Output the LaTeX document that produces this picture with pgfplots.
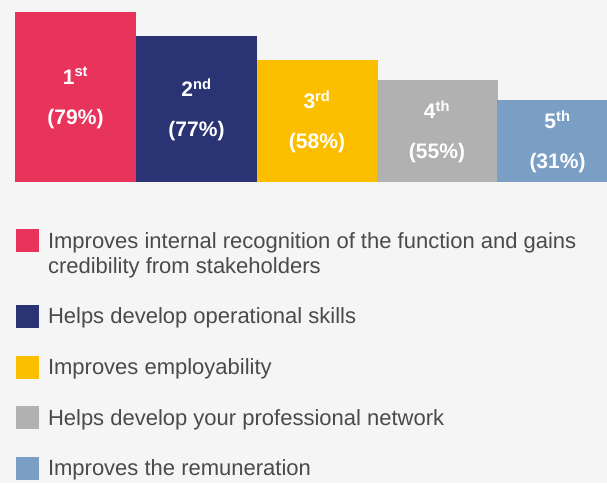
\documentclass[border=0pt]{standalone}
\usepackage{fontspec}
\setmainfont{Liberation Sans}
\usepackage{pgfplots}
\pgfplotsset{compat=1.18}
\definecolor{bg}{HTML}{F5F5F5}
\definecolor{c1}{HTML}{E8335A}
\definecolor{c2}{HTML}{2A3475}
\definecolor{c3}{HTML}{FBBF00}
\definecolor{c4}{HTML}{B1B1B1}
\definecolor{c5}{HTML}{7B9EC5}
\definecolor{lt}{HTML}{4A4A4A}
\begin{document}
\begin{tikzpicture}[x=1pt,y=1pt]
\fill[bg] (-15,-301) rectangle (592,182);
\useasboundingbox (-15,-301) rectangle (592,182);
\begin{axis}[at={(0,0)}, anchor=south west, scale only axis,
  width=592pt, height=182pt, xmin=15, xmax=607, ymin=0, ymax=182,
  axis lines=none, clip=true,
  legend cell align=left,
  legend style={at={(axis description cs:0.00169,-0.2473)}, anchor=north west,
    draw=none, fill=none, inner sep=0pt, outer sep=0pt,
    row sep=0.6pt, column sep=7pt,
    font=\fontsize{22}{25.5}\selectfont, text=lt,
    cells={anchor=base west, inner sep=0pt, text height=19pt, text depth=5pt, text=lt}},
  legend image code/.code={\fill (0pt,-4pt) rectangle (23pt,19pt);},
]
\addplot[ybar, bar width=121, fill=c1, draw=none] coordinates {(75.5,170)};
\addlegendentry{Improves internal recognition of the function and gains}
\addlegendimage{empty legend}
\addlegendentry{credibility from stakeholders}
\addlegendimage{empty legend}
\addlegendentry{\phantom{x}}
\addplot[ybar, bar width=121, fill=c2, draw=none] coordinates {(196.5,146)};
\addlegendentry{Helps develop operational skills}
\addlegendimage{empty legend}
\addlegendentry{\phantom{x}}
\addplot[ybar, bar width=121, fill=c3, draw=none] coordinates {(317,122)};
\addlegendentry{Improves employability}
\addlegendimage{empty legend}
\addlegendentry{\phantom{x}}
\addplot[ybar, bar width=121, fill=c4, draw=none] coordinates {(437,102)};
\addlegendentry{Helps develop your professional network}
\addlegendimage{empty legend}
\addlegendentry{\phantom{x}}
\addplot[ybar, bar width=121, fill=c5, draw=none] coordinates {(557.5,82)};
\addlegendentry{Improves the remuneration}
\tikzset{lab/.style={align=center, text=white, font=\fontsize{21}{40}\selectfont\bfseries}}
\node[lab] at (axis cs:75.5,84) {1\textsuperscript{st}\\(79\%)};
\node[lab] at (axis cs:196.5,72) {2\textsuperscript{nd}\\(77\%)};
\node[lab] at (axis cs:317,60) {3\textsuperscript{rd}\\(58\%)};
\node[lab] at (axis cs:437,50) {4\textsuperscript{th}\\(55\%)};
\node[lab] at (axis cs:557.5,40) {5\textsuperscript{th}\\(31\%)};
\end{axis}
\end{tikzpicture}
\end{document}
